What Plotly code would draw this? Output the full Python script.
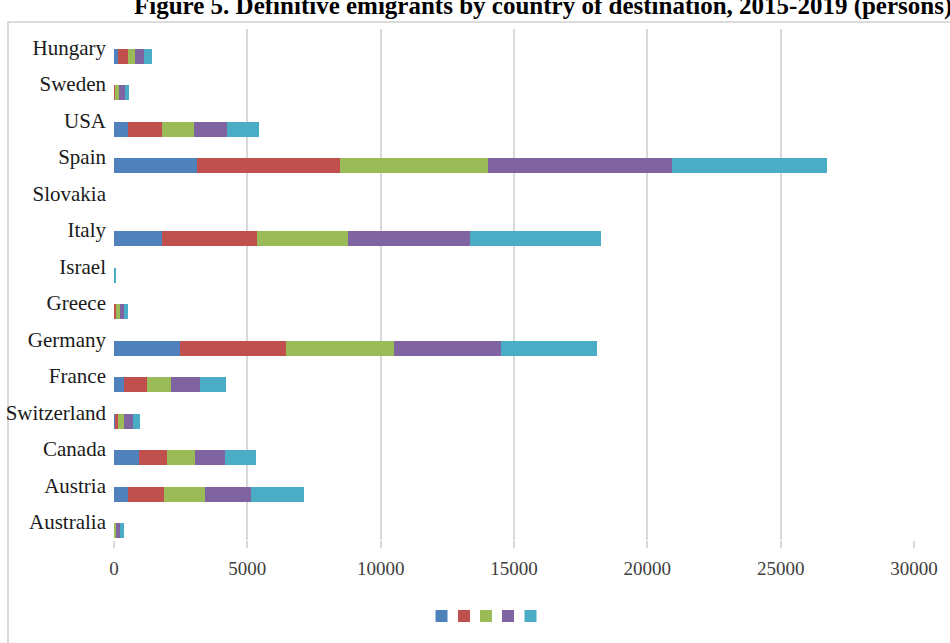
import plotly.graph_objects as go

# Destination countries, listed bottom-to-top as they appear on the axis
countries = ["Australia", "Austria", "Canada", "Switzerland", "France", "Germany",
             "Greece", "Israel", "Italy", "Slovakia", "Spain", "USA", "Sweden", "Hungary"]

years = ["2015", "2016", "2017", "2018", "2019"]

# Definitive emigrants (persons) per year, same order as `countries`
v2015 = [10, 520, 920, 30, 360, 2480, 20, 0, 1790, 0, 3120, 530, 10, 150]
v2016 = [10, 1360, 1070, 130, 890, 3960, 50, 0, 3560, 0, 5340, 1270, 10, 380]
v2017 = [60, 1540, 1030, 230, 880, 4070, 150, 0, 3420, 0, 5560, 1190, 170, 270]
v2018 = [140, 1730, 1150, 310, 1100, 3990, 150, 0, 4570, 0, 6890, 1250, 210, 310]
v2019 = [160, 1990, 1140, 260, 980, 3620, 170, 60, 4940, 0, 5840, 1210, 170, 300]

series = [v2015, v2016, v2017, v2018, v2019]
colors = ["#4F81BD", "#C0504D", "#9BBB59", "#8064A2", "#4BACC6"]

x_ticks = [0, 5000, 10000, 15000, 20000, 25000, 30000]

title_text = "Figure 5. Definitive emigrants by country of destination, 2015-2019 (persons)"

W, H = 950, 643
ML, MR, MT, MB = 114, 36, 29, 103
PW, PH = W - ML - MR, H - MT - MB


def px_x(x):
    return (x - ML) / PW


def px_y(y):
    return (H - MB - y) / PH


# one small legend per year, placed side by side as a compact key row
legend_names = ["legend", "legend2", "legend3", "legend4", "legend5"]
legend_x = [444, 466.5, 488.5, 510.5, 533]

fig = go.Figure()
for vals, col, yr, lg in zip(series, colors, years, legend_names):
    fig.add_trace(go.Bar(
        y=countries, x=vals, orientation="h", name="",
        legendgroup=yr, legend=lg,
        marker=dict(color=col, line=dict(width=0)),
        width=0.41, offset=-0.45,
        hoverinfo="x+y",
    ))

legend_layout = {}
for lg, lx in zip(legend_names, legend_x):
    legend_layout[lg] = dict(
        x=px_x(lx), y=px_y(616), xanchor="center", yanchor="middle",
        itemwidth=30, font=dict(size=12),
        bgcolor="rgba(0,0,0,0)", borderwidth=0,
    )

fig.update_layout(
    width=W, height=H,
    margin=dict(l=ML, r=MR, t=MT, b=MB, autoexpand=False),
    paper_bgcolor="white", plot_bgcolor="white",
    barmode="stack",
    font=dict(family="Liberation Serif", color="#222222"),
    showlegend=True,
    xaxis=dict(
        range=[0, 30000], tickvals=x_ticks,
        ticktext=[str(t) for t in x_ticks],
        showgrid=True, gridcolor="#d9d9d9", gridwidth=1.5,
        zeroline=False, showline=False,
        ticks="outside", ticklen=7, tickcolor="#d9d9d9", tickwidth=1.5,
        ticklabelstandoff=4,
        tickfont=dict(family="Liberation Serif", size=19, color="#404040"),
        automargin=False,
        fixedrange=True,
    ),
    yaxis=dict(
        categoryorder="array", categoryarray=countries,
        range=[-0.5, len(countries) - 0.5],
        showgrid=False, zeroline=False, showline=False, ticks="",
        ticklabelstandoff=7,
        tickfont=dict(family="Liberation Serif", size=21, color="#1a1a1a"),
        automargin=False,
        fixedrange=True,
    ),
    shapes=[dict(
        type="rect", xref="paper", yref="paper",
        x0=px_x(8), x1=px_x(990), y0=px_y(700), y1=px_y(22),
        line=dict(color="#d0d0d0", width=1.5), fillcolor="rgba(0,0,0,0)",
        layer="below",
    )],
    annotations=[dict(
        text="<b>" + title_text + "</b>",
        xref="paper", yref="paper", x=px_x(543), y=px_y(6),
        xanchor="center", yanchor="middle", showarrow=False,
        font=dict(family="Liberation Serif", size=25, color="#000000"),
    )],
    **legend_layout,
)

fig.write_html("out.html")
